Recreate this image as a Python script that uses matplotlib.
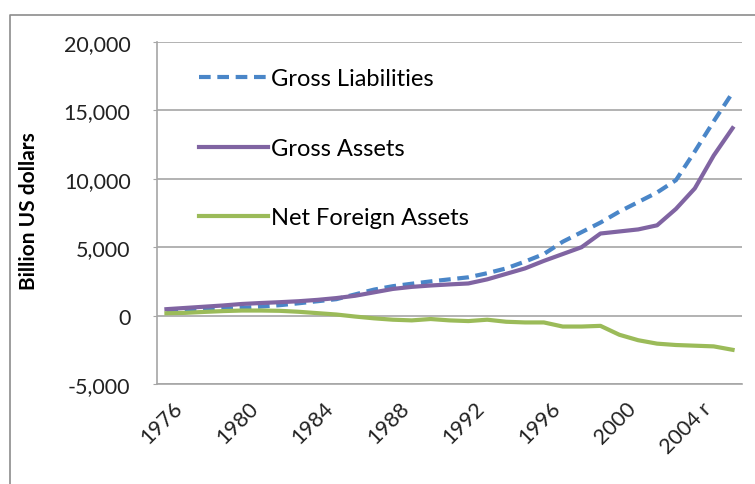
import matplotlib
matplotlib.use("Agg")
import matplotlib.pyplot as plt
import matplotlib.transforms as mtransforms
from matplotlib.lines import Line2D

plt.rcParams['font.family'] = ['Lato', 'DejaVu Sans']

# data (billion US dollars)
years = list(range(1976, 2007))
gross_liabilities = [300, 350, 420, 490, 560, 660, 760, 900, 1050, 1200,
                     1550, 1900, 2150, 2330, 2500, 2650, 2800, 3100, 3450, 3950,
                     4500, 5400, 6100, 6800, 7600, 8300, 9000, 9900, 12000, 14200, 16300]
gross_assets = [470, 560, 650, 740, 850, 920, 980, 1050, 1150, 1280,
                1450, 1700, 1950, 2100, 2200, 2280, 2350, 2650, 3050, 3450,
                4000, 4500, 5000, 6000, 6150, 6300, 6600, 7800, 9300, 11700, 13700]
net_foreign_assets = [170, 200, 270, 330, 370, 370, 350, 280, 180, 80,
                      -70, -200, -300, -350, -250, -350, -400, -300, -450, -500,
                      -500, -800, -800, -750, -1400, -1800, -2050, -2150, -2200, -2250, -2500]
tick_labels = ['1976', '1980', '1984', '1988', '1992', '1996', '2000', '2004 r']
y_ticks = [-5000, 0, 5000, 10000, 15000, 20000]

fig = plt.figure(figsize=(7.55, 4.85), dpi=100)
ax = fig.add_axes([157 / 755, 1 - 385 / 485, (742 - 157) / 755, (385 - 43) / 485])

x = list(range(len(years)))
ax.plot(x, gross_liabilities, color='#4a86c8', lw=3, dashes=(2.8, 1.6),
        label='Gross Liabilities')
ax.plot(x, gross_assets, color='#8064a2', lw=3, label='Gross Assets')
ax.plot(x, net_foreign_assets, color='#9bbb59', lw=3, label='Net Foreign Assets')

ax.set_xlim(-0.5, len(years) - 0.5)
ax.set_ylim(-5000, 20000)
ax.set_yticks(y_ticks)
ax.set_yticklabels(['{:,}'.format(v) for v in y_ticks], fontsize=15.5, color='#222222')
ax.yaxis.grid(True, color='#a6a6a6', lw=1.2)
ax.set_axisbelow(True)

ax.set_xticks(range(0, len(years), 4))
ax.set_xticklabels(tick_labels, rotation=45, ha='right', rotation_mode='anchor',
                   fontsize=15.5, color='#222222')
ax.tick_params(axis='x', length=0, pad=10)
ax.tick_params(axis='y', length=3, color='#a6a6a6', pad=16)
shift = mtransforms.ScaledTranslation(6 / 100, 0, fig.dpi_scale_trans)
for lab in ax.get_xticklabels():
    lab.set_transform(lab.get_transform() + shift)

for s in ['top', 'right']:
    ax.spines[s].set_visible(False)
for s in ['left', 'bottom']:
    ax.spines[s].set_color('#a6a6a6')
    ax.spines[s].set_linewidth(1.2)

ax.set_ylabel('Billion US dollars', fontsize=15, fontweight='bold')
ax.yaxis.set_label_coords((39 - 157) / 585, (385 - 211) / 342)

ax.legend(loc='upper left', bbox_to_anchor=(0.036, 0.985), frameon=False,
          fontsize=17, handlelength=2.9, handletextpad=0.15, labelspacing=2.05)

# outer chart border
fig.add_artist(Line2D([10 / 755, 10 / 755, 1], [0, 1 - 16 / 485, 1 - 16 / 485],
                      transform=fig.transFigure, color='#8c8c8c', lw=1.2))

fig.savefig('out.png', dpi=100)
